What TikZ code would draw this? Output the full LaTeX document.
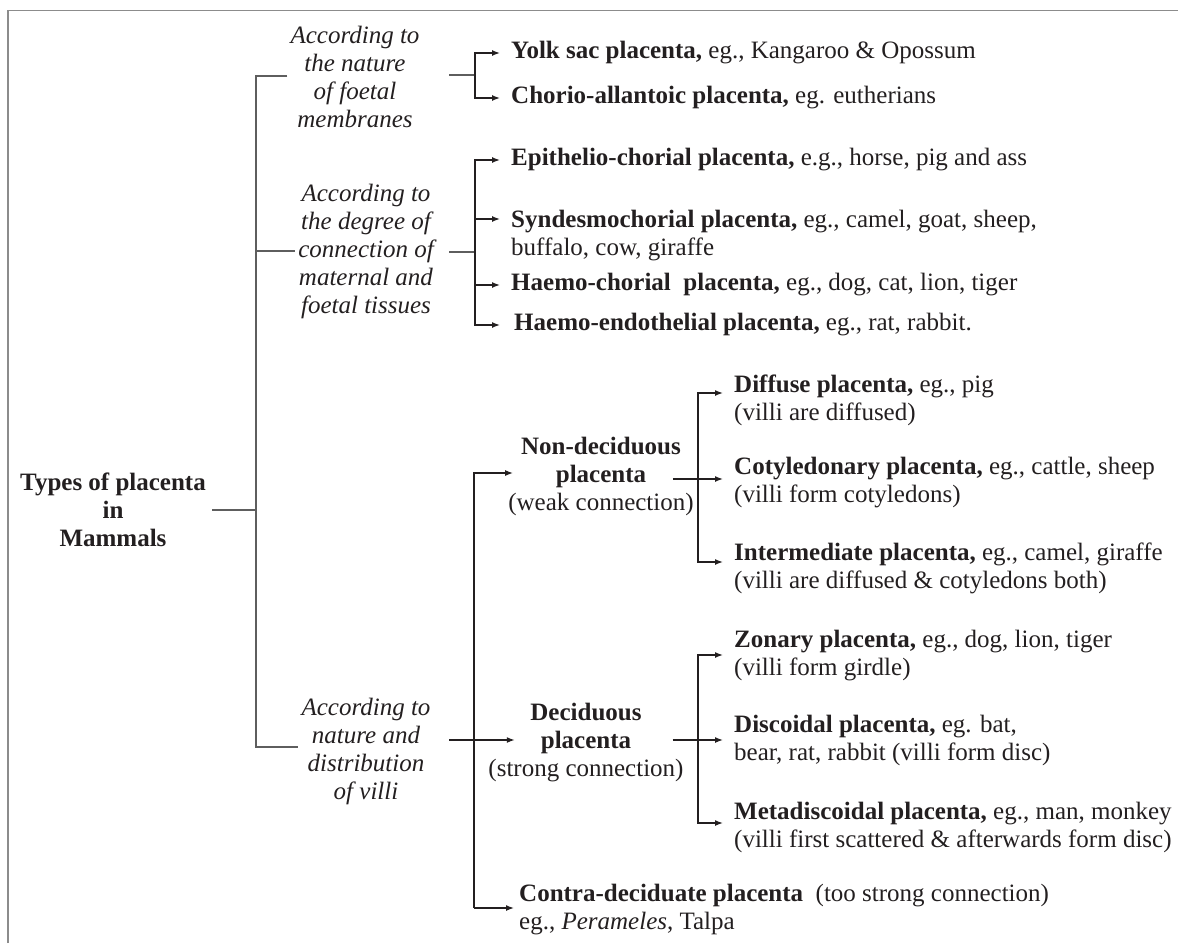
\documentclass[tikz,border=0pt]{standalone}
\usepackage{fontspec}
\setmainfont{Liberation Serif}
\usetikzlibrary{arrows.meta,calc}
\definecolor{FrameGrey}{HTML}{8C8C8C}
\definecolor{BusGrey}{HTML}{5E5E5E}
\definecolor{TreeInk}{HTML}{231F20}

\begin{document}
\begin{tikzpicture}[x=1pt, y=-1pt,
  every node/.style={inner sep=0pt, text=TreeInk, font=\fontsize{25}{28}\selectfont},
  head/.style={align=center, font=\fontsize{25}{28}\selectfont\bfseries},
  crit/.style={align=center, inner xsep=3pt, font=\fontsize{25}{28}\selectfont\itshape},
  kind/.style={align=center},
  leaf/.style={anchor=west, align=left, inner xsep=11pt},
  bus/.style={draw=BusGrey, line width=1.1pt},
  arr/.style={draw=TreeInk, line width=1.4pt, -{Latex[length=8pt,width=6pt]}}]
  \useasboundingbox (0,0) rectangle (1178,943);
  \draw[draw=FrameGrey, line width=1.5pt] (8,943) -- (8,10.5) -- (1178,10.5);

  \node[head] (root) at (113,510) {Types of placenta\\in\\Mammals};
  \node[crit] (blk1) at (355,77) {According to\\the nature\\of foetal\\membranes};
  \node[crit] (blk2) at (366,251) {According to\\the degree of\\connection of\\maternal and\\foetal tissues};
  \node[crit] (villi) at (366,751) {According to\\nature and\\distribution\\of villi};

  \coordinate (busT) at (256,76);
  \coordinate (busC) at (256,251);
  \coordinate (busM) at (256,510);
  \coordinate (busB) at (256,747);
  \draw[bus] ([xshift=6pt]root.east) -- (busM);
  \draw[bus] (busT -| blk1.west) -- (busT) -- (busB) -- (busB -| villi.west);
  \draw[bus] (busC) -- (busC -| blk2.west);

  \node[leaf] (yolk) at (500,53) {\textbf{Yolk sac placenta,} eg., Kangaroo \& Opossum};
  \node[leaf] (chorio) at (500,98) {\textbf{Chorio-allantoic placenta,} eg. eutherians};
  \node[leaf] (epith) at (500,160) {\textbf{Epithelio-chorial placenta,} e.g., horse, pig and ass};
  \node[leaf] (syndes) at (500,236) {\textbf{Syndesmochorial placenta,} eg., camel, goat, sheep,\\buffalo, cow, giraffe};
  \node[leaf] (haemoc) at (500,285) {\textbf{Haemo-chorial\ \ placenta,} eg., dog, cat, lion, tiger};
  \node[leaf, inner xsep=14pt] (haemoe) at (500,325) {\textbf{Haemo-endothelial placenta,} eg., rat, rabbit.};

  \coordinate (s1) at (449,75);
  \coordinate (j1) at (475,75);
  \draw[bus] (s1) -- (j1);
  \draw[arr] (j1) |- (yolk.west);
  \draw[arr] (j1) |- (chorio.west);
  \coordinate (s2) at (449,252);
  \coordinate (j2) at (475,252);
  \draw[bus] (s2) -- (j2);
  \foreach \leafname in {epith,haemoc,haemoe}
    \draw[arr] (j2) |- (\leafname.west);
  \draw[arr] (j2) |- ([yshift=17pt]syndes.west);

  \node[kind] (nondec) at (601,476) {\textbf{Non-deciduous}\\\textbf{placenta}\\(weak connection)};
  \node[kind] (decid) at (586,743) {\textbf{Deciduous}\\\textbf{placenta}\\(strong connection)};
  \node[leaf, inner xsep=5pt] (contra) at (514,910) {\textbf{Contra-deciduate placenta}\ \ (too strong connection)\\eg., \textit{Perameles}, Talpa};
  \coordinate (s3) at (449,740);
  \coordinate (bus2T) at (474,473);
  \coordinate (bus2B) at (474,908);
  \draw[arr] (s3) -- ([xshift=26.5pt,yshift=3pt]decid.west);
  \draw[arr] (bus2B) -- (bus2T) -- ($(bus2T -| nondec.west)+(5,0)$);
  \draw[arr] (bus2B) -- ([yshift=2pt]contra.west);

  \node[leaf] (diffuse) at (723,400) {\textbf{Diffuse placenta,} eg., pig\\(villi are diffused)};
  \node[leaf] (cotyl) at (723,483) {\textbf{Cotyledonary placenta,} eg., cattle, sheep\\(villi form cotyledons)};
  \node[leaf] (inter) at (723,568) {\textbf{Intermediate placenta,} eg., camel, giraffe\\(villi are diffused \& cotyledons both)};
  \node[leaf] (zonary) at (723,656) {\textbf{Zonary placenta,} eg., dog, lion, tiger\\(villi form girdle)};
  \node[leaf] (discoid) at (723,740) {\textbf{Discoidal placenta,} eg. bat,\\bear, rat, rabbit (villi form disc)};
  \node[leaf] (metad) at (723,827) {\textbf{Metadiscoidal placenta,} eg., man, monkey\\(villi first scattered \& afterwards form disc)};

  \coordinate (brN) at (698,479);
  \coordinate (brD) at (698,740);
  \draw[arr] ($(nondec.east)+(-21,3)$) -- ([yshift=4pt]cotyl.west);
  \draw[arr] (brN) |- ([yshift=7pt]diffuse.west);
  \draw[arr] (brN) |- ([yshift=6pt]inter.west);
  \draw[arr] ($(decid.east)+(-11,-3)$) -- (discoid.west);
  \draw[arr] (brD) |- ([yshift=1pt]zonary.west);
  \draw[arr] (brD) |- ([yshift=4pt]metad.west);
\end{tikzpicture}
\end{document}
